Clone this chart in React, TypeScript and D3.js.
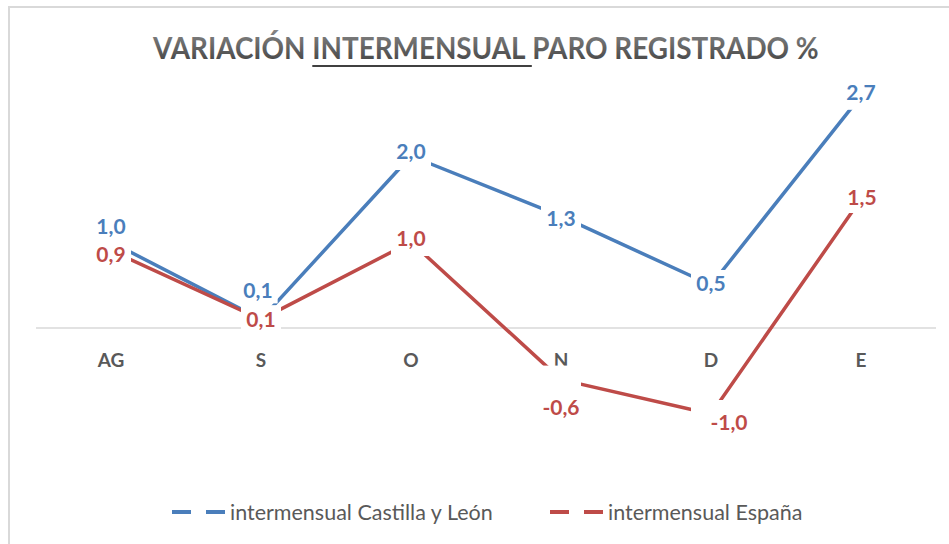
import { useRef, useEffect } from "react";
import * as d3 from "d3";

const months = ["AG", "S", "O", "N", "D", "E"];
const castillaLeon = [1.0, 0.1, 2.0, 1.3, 0.5, 2.7];
const espana = [0.9, 0.1, 1.0, -0.6, -1.0, 1.5];
const seriesNames = ["intermensual Castilla y León", "intermensual España"];

// some labels were dragged off their points in the original chart
const nudgeCyL: [number, number][] = [[0, -16], [-3, -29], [0, -5], [0, 2], [0, -2], [0, -3]];
const nudgeEsp: [number, number][] = [[0, 4], [0, 0], [0, -4], [0, 28], [18, 8], [1, -2]];

const fmt = (v: number) => v.toFixed(1).replace(".", ",");

export default function App() {
    const svgRef = useRef<SVGSVGElement>(null);

    useEffect(() => {
        if (!svgRef.current) return;
        const svg = d3.select(svgRef.current);
        svg.selectAll("*").remove();

        const width = 949;
        const height = 544;
        const font = "Lato, 'Open Sans', sans-serif";
        const grey = "#595959";

        const x = d3.scaleBand().domain(months).range([36, 936]);
        const y = d3.scaleLinear().domain([-1, 3]).range([414, 70]);
        const cx = (m: string) => (x(m) || 0) + x.bandwidth() / 2;

        const series = [
            { name: seriesNames[0], values: castillaLeon, color: "#4a7ebb", nudge: nudgeCyL },
            { name: seriesNames[1], values: espana, color: "#be4b48", nudge: nudgeEsp },
        ];

        // chart area border (top + left visible)
        svg.append("path")
            .attr("d", `M9,${height} V7 H${width}`)
            .attr("fill", "none")
            .attr("stroke", "#d9d9d9")
            .attr("stroke-width", 2);

        // title
        const defs = svg.append("defs");
        const grad = defs.append("linearGradient")
            .attr("id", "titleGrad")
            .attr("x1", 0).attr("x2", 0).attr("y1", 0).attr("y2", 1);
        grad.append("stop").attr("offset", "0%").attr("stop-color", "#8a8a8a");
        grad.append("stop").attr("offset", "100%").attr("stop-color", "#3f3f3f");

        const titleG = svg.append("g");
        const title = titleG.append("text")
            .attr("font-family", font)
            .attr("font-weight", "bold")
            .attr("font-size", 31)
            .attr("fill", "url(#titleGrad)");
        title.append("tspan").text("VARIACIÓN ");
        title.append("tspan").text("INTERMENSUAL");
        title.append("tspan").text(" PARO REGISTRADO %");
        const tNode = title.node() as SVGTextElement;
        const tw = tNode.getComputedTextLength();
        const sx = 665 / tw;
        titleG.attr("transform", `translate(153,59) scale(${sx},1)`);
        const u0 = tNode.getStartPositionOfChar(10).x;
        const u1 = tNode.getEndPositionOfChar(21).x + 7;
        titleG.append("line")
            .attr("x1", u0).attr("x2", u1)
            .attr("y1", 7).attr("y2", 7)
            .attr("stroke", "#404040")
            .attr("stroke-width", 2);

        // zero axis
        svg.append("line")
            .attr("x1", x.range()[0]).attr("x2", x.range()[1])
            .attr("y1", y(0)).attr("y2", y(0))
            .attr("stroke", "#d9d9d9")
            .attr("stroke-width", 1.5);

        // category labels
        svg.append("g")
            .selectAll("text")
            .data(months)
            .enter()
            .append("text")
            .attr("x", (d) => cx(d))
            .attr("y", 367)
            .attr("text-anchor", "middle")
            .attr("font-family", font)
            .attr("font-weight", "bold")
            .attr("font-size", 19)
            .attr("fill", grey)
            .text((d) => d);

        const line = d3.line<number>()
            .x((_, i) => cx(months[i]))
            .y((d) => y(d));

        series.forEach((s) => {
            svg.append("path")
                .datum(s.values)
                .attr("d", line)
                .attr("fill", "none")
                .attr("stroke", s.color)
                .attr("stroke-width", 3.5)
                .attr("stroke-linejoin", "round");
        });

        // white label boxes at the points (cut the lines like in Excel)
        series.forEach((s) => {
            svg.append("g")
                .selectAll("rect")
                .data(s.values)
                .enter()
                .append("rect")
                .attr("x", (_, i) => cx(months[i]) - 20)
                .attr("y", (d) => y(d) - 14)
                .attr("width", 40)
                .attr("height", 28)
                .attr("fill", "#fff");
        });

        // data labels
        series.forEach((s) => {
            const g = svg.append("g");
            s.values.forEach((v, i) => {
                const lx = cx(months[i]) + s.nudge[i][0];
                const ly = y(v) + s.nudge[i][1];
                const r = g.append("rect").attr("fill", "#fff");
                const t = g.append("text")
                    .attr("x", lx)
                    .attr("y", ly)
                    .attr("dy", "0.36em")
                    .attr("text-anchor", "middle")
                    .attr("font-family", font)
                    .attr("font-weight", "bold")
                    .attr("font-size", 21)
                    .attr("fill", s.color)
                    .text(fmt(v));
                const w = (t.node() as SVGTextElement).getComputedTextLength();
                r.attr("x", lx - w / 2 - 5)
                    .attr("y", ly - 13)
                    .attr("width", w + 10)
                    .attr("height", 26);
            });
        });

        // legend
        const legendX = [172, 550];
        series.forEach((s, i) => {
            const lg = svg.append("g").attr("transform", `translate(${legendX[i]},512)`);
            lg.append("line")
                .attr("x1", 0).attr("x2", 54)
                .attr("stroke", s.color)
                .attr("stroke-width", 4)
                .attr("stroke-dasharray", "19,15");
            lg.append("text")
                .attr("x", 58)
                .attr("dy", "0.36em")
                .attr("font-family", font)
                .attr("font-size", 21.5)
                .attr("fill", grey)
                .text(s.name);
        });

        svg.attr("width", width).attr("height", height);
    }, []);

    return (
        <svg
            ref={svgRef}
            style={{ position: "absolute", left: 0, top: 0, background: "#fff" }}
        />
    );
}
